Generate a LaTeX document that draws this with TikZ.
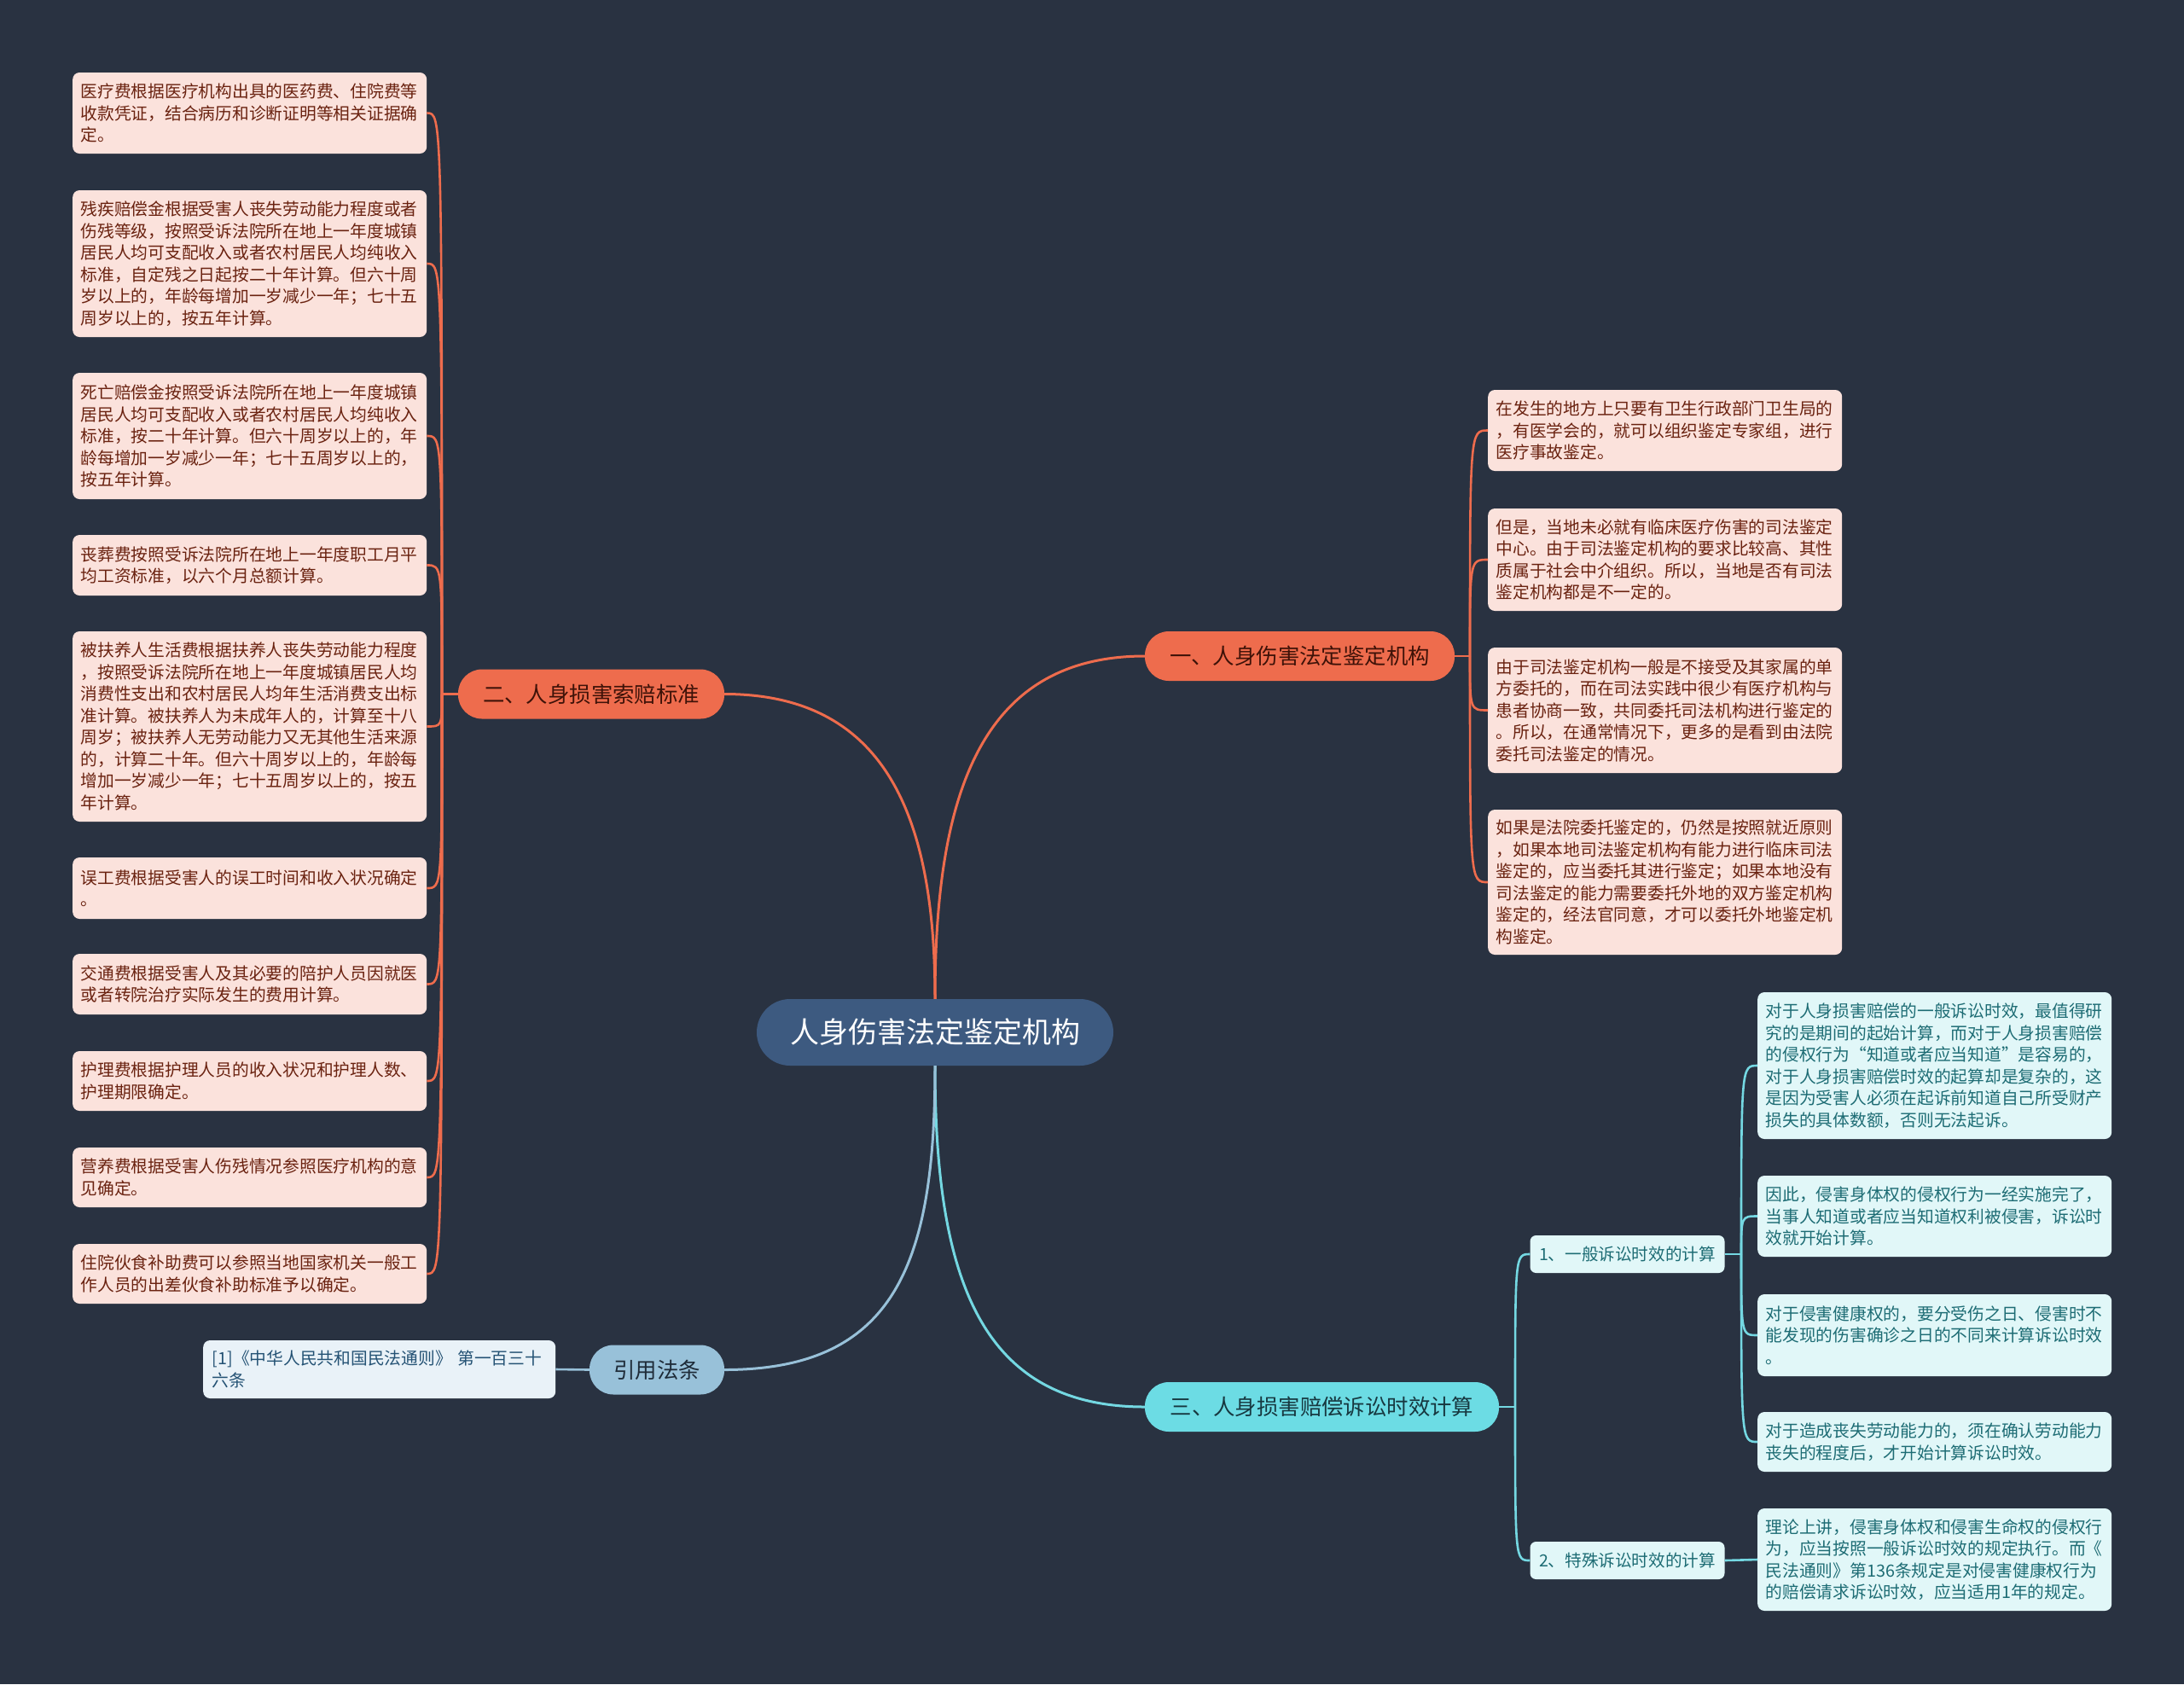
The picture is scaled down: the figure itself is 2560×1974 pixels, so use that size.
\documentclass[tikz,border=0pt]{standalone}
\usepackage{fontspec}
\setmainfont{Noto Sans CJK SC}
\definecolor{bg}{HTML}{293241}
\definecolor{cfill}{HTML}{3D5A80}
\definecolor{ofill}{HTML}{EE6C4D}
\definecolor{otext}{HTML}{3E1208}
\definecolor{lofill}{HTML}{FBE2DC}
\definecolor{lotext}{HTML}{6A2210}
\definecolor{cyfill}{HTML}{6CDCE4}
\definecolor{cytext}{HTML}{173840}
\definecolor{lcfill}{HTML}{E1F7F8}
\definecolor{lctext}{HTML}{1D6C74}
\definecolor{cyline}{HTML}{74D8E2}
\definecolor{bfill}{HTML}{98C1D9}
\definecolor{btext}{HTML}{1E2B38}
\definecolor{lbfill}{HTML}{E9F2F8}
\definecolor{lbtext}{HTML}{245274}
\tikzset{
  central/.style={fill=cfill, text=white, rounded corners=39pt, minimum width=418pt, minimum height=78pt, inner sep=0pt, font=\fontsize{34}{40}\selectfont},
  branch/.style={rounded corners=28pt, minimum height=58pt, inner sep=0pt, font=\fontsize{25.4}{30}\selectfont},
  leafbase/.style={rounded corners=8pt, text width=396pt, align=left, inner xsep=9.5pt, inner ysep=0pt, anchor=west, font=\fontsize{19.75}{25.5}\selectfont},
  leafo/.style={leafbase, fill=lofill, text=lotext},
  leafc/.style={leafbase, fill=lcfill, text=lctext},
  leafb/.style={leafbase, fill=lbfill, text=lbtext, text width=392pt, inner xsep=10.5pt},
  subc/.style={fill=lcfill, text=lctext, rounded corners=7pt, minimum width=228pt, minimum height=44pt, inner sep=0pt, font=\fontsize{19.6}{24}\selectfont},
  oc/.style={draw=ofill, line width=2.6pt},
  cc/.style={draw=cyline, line width=2.6pt},
  bc/.style={draw=bfill, line width=2.6pt},
}
\begin{document}
\begin{tikzpicture}[x=1pt,y=-1pt]
\fill[bg] (0,0) rectangle (2560,1974);
\path[use as bounding box] (0,0) rectangle (2560,1974);

% central and branches
\node[central] (c) at (1096,1210) {人身伤害法定鉴定机构};
\node[branch, fill=ofill, text=otext, minimum width=363pt] (b1) at (1523.5,769) {一、人身伤害法定鉴定机构};
\node[branch, fill=ofill, text=otext, minimum width=312pt] (b2) at (693,813.5) {二、人身损害索赔标准};
\node[branch, fill=cyfill, text=cytext, minimum width=415pt] (b3) at (1549.5,1649) {三、人身损害赔偿诉讼时效计算};
\node[branch, fill=bfill, text=btext, minimum width=158pt] (b4) at (770,1605.5) {引用法条};

% left leaves (branch 2)
\node[leafo, minimum height=95pt] (L1) at (85,132.5) {医疗费根据医疗机构出具的医药费、住院费等\\收款凭证，结合病历和诊断证明等相关证据确\\定。};
\node[leafo, minimum height=172pt] (L2) at (85,309) {残疾赔偿金根据受害人丧失劳动能力程度或者\\伤残等级，按照受诉法院所在地上一年度城镇\\居民人均可支配收入或者农村居民人均纯收入\\标准，自定残之日起按二十年计算。但六十周\\岁以上的，年龄每增加一岁减少一年；七十五\\周岁以上的，按五年计算。};
\node[leafo, minimum height=148pt] (L3) at (85,511) {死亡赔偿金按照受诉法院所在地上一年度城镇\\居民人均可支配收入或者农村居民人均纯收入\\标准，按二十年计算。但六十周岁以上的，年\\龄每增加一岁减少一年；七十五周岁以上的，\\按五年计算。};
\node[leafo, minimum height=71pt] (L4) at (85,662.5) {丧葬费按照受诉法院所在地上一年度职工月平\\均工资标准，以六个月总额计算。};
\node[leafo, minimum height=223pt] (L5) at (85,851.5) {被扶养人生活费根据扶养人丧失劳动能力程度\\，按照受诉法院所在地上一年度城镇居民人均\\消费性支出和农村居民人均年生活消费支出标\\准计算。被扶养人为未成年人的，计算至十八\\周岁；被扶养人无劳动能力又无其他生活来源\\的，计算二十年。但六十周岁以上的，年龄每\\增加一岁减少一年；七十五周岁以上的，按五\\年计算。};
\node[leafo, minimum height=72pt] (L6) at (85,1041) {误工费根据受害人的误工时间和收入状况确定\\。};
\node[leafo, minimum height=71pt] (L7) at (85,1153.5) {交通费根据受害人及其必要的陪护人员因就医\\或者转院治疗实际发生的费用计算。};
\node[leafo, minimum height=70pt] (L8) at (85,1267) {护理费根据护理人员的收入状况和护理人数、\\护理期限确定。};
\node[leafo, minimum height=70pt] (L9) at (85,1380) {营养费根据受害人伤残情况参照医疗机构的意\\见确定。};
\node[leafo, minimum height=70pt] (L10) at (85,1493) {住院伙食补助费可以参照当地国家机关一般工\\作人员的出差伙食补助标准予以确定。};

% right leaves (branch 1)
\node[leafo, minimum height=95pt] (R1) at (1744,504.5) {在发生的地方上只要有卫生行政部门卫生局的\\，有医学会的，就可以组织鉴定专家组，进行\\医疗事故鉴定。};
\node[leafo, minimum height=120pt] (R2) at (1744,656) {但是，当地未必就有临床医疗伤害的司法鉴定\\中心。由于司法鉴定机构的要求比较高、其性\\质属于社会中介组织。所以，当地是否有司法\\鉴定机构都是不一定的。};
\node[leafo, minimum height=147pt] (R3) at (1744,832.5) {由于司法鉴定机构一般是不接受及其家属的单\\方委托的，而在司法实践中很少有医疗机构与\\患者协商一致，共同委托司法机构进行鉴定的\\。所以，在通常情况下，更多的是看到由法院\\委托司法鉴定的情况。};
\node[leafo, minimum height=170pt] (R4) at (1744,1034) {如果是法院委托鉴定的，仍然是按照就近原则\\，如果本地司法鉴定机构有能力进行临床司法\\鉴定的，应当委托其进行鉴定；如果本地没有\\司法鉴定的能力需要委托外地的双方鉴定机构\\鉴定的，经法官同意，才可以委托外地鉴定机\\构鉴定。};

% branch 3 subnodes and leaves
\node[subc] (S1) at (1907.5,1470) {1、一般诉讼时效的计算};
\node[subc] (S2) at (1907.5,1829) {2、特殊诉讼时效的计算};
\node[leafc, minimum height=172pt] (C1) at (2060,1249) {对于人身损害赔偿的一般诉讼时效，最值得研\\究的是期间的起始计算，而对于人身损害赔偿\\的侵权行为“知道或者应当知道”是容易的，\\对于人身损害赔偿时效的起算却是复杂的，这\\是因为受害人必须在起诉前知道自己所受财产\\损失的具体数额，否则无法起诉。};
\node[leafc, minimum height=95pt] (C2) at (2060,1425.5) {因此，侵害身体权的侵权行为一经实施完了，\\当事人知道或者应当知道权利被侵害，诉讼时\\效就开始计算。};
\node[leafc, minimum height=96pt] (C3) at (2060,1565) {对于侵害健康权的，要分受伤之日、侵害时不\\能发现的伤害确诊之日的不同来计算诉讼时效\\。};
\node[leafc, minimum height=70pt] (C4) at (2060,1690) {对于造成丧失劳动能力的，须在确认劳动能力\\丧失的程度后，才开始计算诉讼时效。};
\node[leafc, minimum height=120pt] (C5) at (2060,1828) {理论上讲，侵害身体权和侵害生命权的侵权行\\为，应当按照一般诉讼时效的规定执行。而《\\民法通则》第136条规定是对侵害健康权行为\\的赔偿请求诉讼时效，应当适用1年的规定。};

% branch 4 leaf
\node[leafb, minimum height=68pt] (F1) at (238,1605) {[1]《中华人民共和国民法通则》 第一百三十\\六条};

% main connectors
\draw[oc, line width=3pt] (c.north) .. controls (1096,930) and (1150,769) .. (b1.west);
\draw[oc, line width=3pt] (c.north) .. controls (1096,960) and (1040,813.5) .. (b2.east);
\draw[cc, line width=3pt] (c.south) .. controls (1096,1500) and (1150,1649) .. (b3.west);
\draw[bc, line width=3pt] (c.south) .. controls (1096,1480) and (1050,1605.5) .. (b4.east);

% branch 1 leaves
\coordinate (t1) at (1723,769);
\draw[oc] (b1.east) -- (t1);
\foreach \n in {R1,R2,R3,R4} \draw[oc] (t1) .. controls (t1 |- \n.west) .. (\n.west);

% branch 2 leaves
\coordinate (t2) at (518,813.5);
\draw[oc] (b2.west) -- (t2);
\foreach \n in {L1,L2,L3,L4,L5,L6,L7,L8,L9,L10} \draw[oc] (t2) .. controls (t2 |- \n.east) .. (\n.east);

% branch 3
\coordinate (t3) at (1776,1649);
\draw[cc] (b3.east) -- (t3);
\foreach \n in {S1,S2} \draw[cc] (t3) .. controls (t3 |- \n.west) .. (\n.west);
\coordinate (t4) at (2041,1470);
\draw[cc] (S1.east) -- (t4);
\foreach \n in {C1,C2,C3,C4} \draw[cc] (t4) .. controls (t4 |- \n.west) .. (\n.west);
\draw[cc] (S2.east) -- (C5.west);

% branch 4
\draw[bc] (b4.west) -- (F1.east);
\end{tikzpicture}
\end{document}
